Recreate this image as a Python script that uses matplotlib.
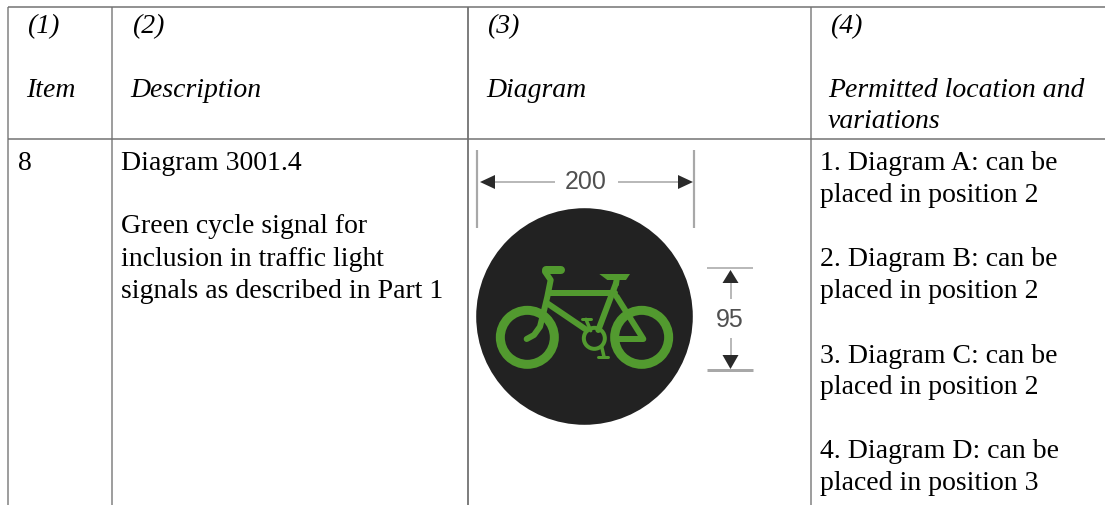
import matplotlib
matplotlib.use("Agg")
import matplotlib.pyplot as plt
from matplotlib.patches import Circle, Polygon

plt.rcParams['font.family'] = ['Liberation Serif']

W, H = 1105, 505
PX = 0.72

col_x = [8, 112, 468, 811]
col_color = ['#808080', '#808080', '#555555', '#808080']
row_y = [6.5, 138.5]

header_numbers = ['(1)', '(2)', '(3)', '(4)']
header_num_x = [27, 132, 487, 830]
header_names = ['Item', 'Description', 'Diagram', 'Permitted location and']
header_name_x = [26, 130, 486, 828]
header_extra = 'variations'

item = '8'
description_lines = ['Diagram 3001.4', 'Green cycle signal for', 'inclusion in traffic light',
                     'signals as described in Part 1']
description_y = [170, 233, 266, 298]
variation_lines = ['1. Diagram A: can be', 'placed in position 2',
                   '2. Diagram B: can be', 'placed in position 2',
                   '3. Diagram C: can be', 'placed in position 2',
                   '4. Diagram D: can be', 'placed in position 3']
variation_y = [170, 202, 266, 298, 363, 394, 458, 490]

width_label = '200'
height_label = '95'

fig = plt.figure(figsize=(W/100, H/100), dpi=100)
ax = fig.add_axes([0, 0, 1, 1])
ax.set_xlim(0, W)
ax.set_ylim(H, 0)
ax.axis('off')

for x, c in zip(col_x, col_color):
    ax.plot([x, x], [row_y[0], H], color=c, lw=1.5*PX, solid_capstyle='butt')
for y in row_y:
    ax.plot([col_x[0], W], [y, y], color='#707070', lw=1.5*PX, solid_capstyle='butt')

fs = 20
for t, x in zip(header_numbers, header_num_x):
    ax.text(x, 33, t, style='italic', fontsize=fs, va='baseline', color='black')
for t, x in zip(header_names, header_name_x):
    ax.text(x, 97, t, style='italic', fontsize=fs, va='baseline', color='black')
ax.text(header_name_x[3], 128, header_extra, style='italic', fontsize=fs, va='baseline', color='black')

ax.text(18, 170, item, fontsize=fs, va='baseline', color='black')
for t, y in zip(description_lines, description_y):
    ax.text(121, y, t, fontsize=fs, va='baseline', color='black')
for t, y in zip(variation_lines, variation_y):
    ax.text(820, y, t, fontsize=fs, va='baseline', color='black')

# signal disc
ax.add_patch(Circle((584.5, 316.5), 108.3, fc='#222222', ec='none'))
green = '#529a2f'
def z(px, py):
    return 460 + px/3, 140 + py/3
def seg(pts, w):
    xs, ys = zip(*[z(*p) for p in pts])
    ax.plot(xs, ys, color=green, lw=w*PX, solid_capstyle='round', solid_joinstyle='round')

for c in [(202, 592), (545, 592)]:
    ax.add_patch(Circle(z(*c), 27, fc='none', ec=green, lw=9*PX))
ax.add_patch(Circle(z(403, 595), 10.5, fc='none', ec=green, lw=4*PX))
seg([(258, 390), (302, 390)], 8)
seg([(255, 395), (272, 420), (262, 470), (250, 520), (240, 560), (222, 585), (200, 597)], 6)
seg([(270, 458), (465, 458)], 6)
seg([(262, 490), (380, 570)], 6)
seg([(468, 430), (415, 570)], 6)
seg([(470, 470), (550, 597), (465, 597)], 6)
ax.add_patch(Polygon([z(418, 402), z(510, 402), z(498, 420), z(442, 420)], fc=green, ec='none'))
seg([(470, 418), (468, 432)], 6)
seg([(365, 538), (392, 538)], 3)
seg([(378, 538), (392, 572)], 3.5)
seg([(425, 620), (432, 650)], 3.5)
seg([(415, 650), (445, 650)], 3)

# dimension lines
dim = '#a8a8a8'
dark = '#2a2a2a'
def line(p, q, w=1.6):
    ax.plot([p[0], q[0]], [p[1], q[1]], color=dim, lw=w*PX, solid_capstyle='butt')
line((477.3, 150), (477.3, 228), 2.2)
line((694.3, 150), (694.3, 228), 2.2)
line((495, 182), (555, 182))
line((618, 182), (678, 182))
line((707, 267.7), (753, 267.7))
line((707, 370), (753, 370), 3)
line((730.5, 283), (730.5, 299))
line((730.5, 338), (730.5, 355))
for tri in [[(480, 182), (495, 175), (495, 189)],
            [(693, 182), (678, 175), (678, 189)],
            [(730.5, 270), (722.5, 283), (738.5, 283)],
            [(730.5, 369), (722.5, 355), (738.5, 355)]]:
    ax.add_patch(Polygon(tri, fc=dark, ec='none'))
ax.text(585.3, 182, width_label, family='Liberation Sans', fontsize=18, ha='center', va='center', color='#505050')
ax.text(729.3, 320, height_label, family='Liberation Sans', fontsize=18, ha='center', va='center', color='#505050')

fig.savefig('out.png', dpi=100)
